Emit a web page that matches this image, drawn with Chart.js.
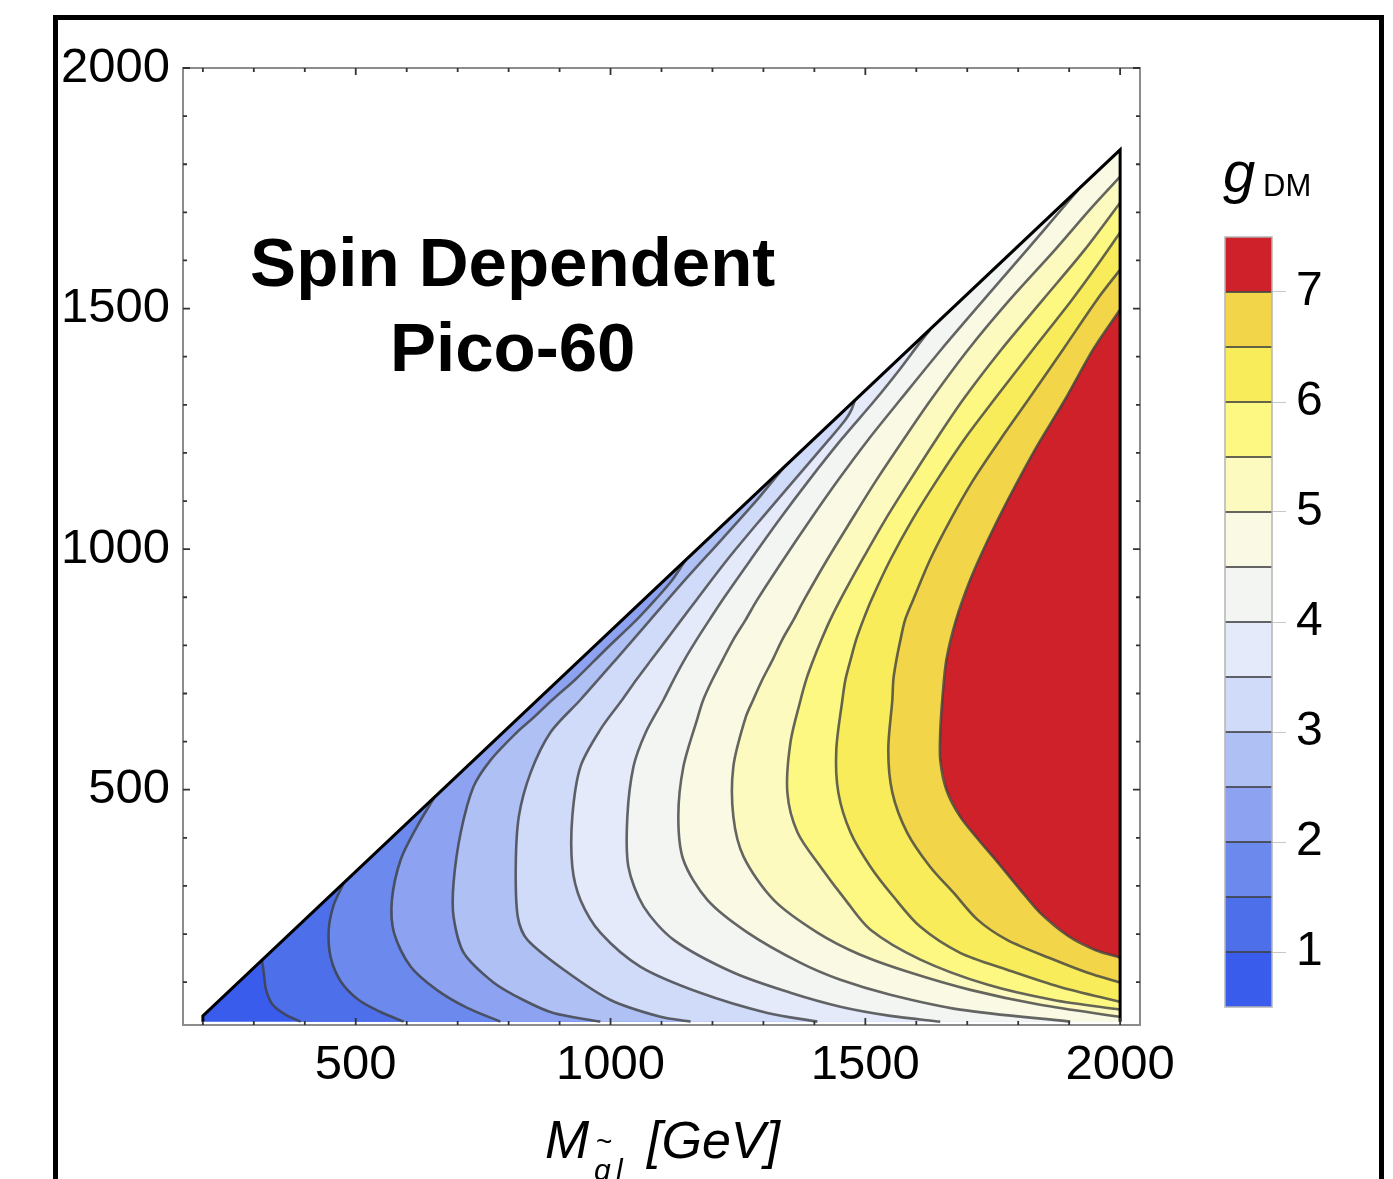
<!DOCTYPE html>
<html>
<head>
<meta charset="utf-8">
<title>g_DM contours - Spin Dependent Pico-60</title>
<script src="https://cdn.jsdelivr.net/npm/chart.js@4.4.1/dist/chart.umd.min.js"></script>
<style>
  html, body { margin: 0; padding: 0; background: #fff; overflow: hidden; }
  #page { position: relative; width: 1393px; height: 1179px; overflow: hidden; }
  #box { position: absolute; left: 53px; top: 15px; width: 1321px; height: 1250px; border: 5px solid #000; }
  #plot { position: absolute; left: 0; top: 0; }
  #scale { position: absolute; left: 1180px; top: 150px; }
</style>
</head>
<body>
<div id="page">
  <div id="box"></div>
  <canvas id="plot" width="1393" height="1179"></canvas>
  <canvas id="scale" width="213" height="880"></canvas>
</div>
<script>
// Contour map of g_DM over (M_squark, M_DM), Pico-60 spin dependent bound

const FONT = "'Liberation Sans', Arial, Helvetica, sans-serif";

// contour levels and the colour of each band (lowest band first)
const levels = [1, 1.5, 2, 2.5, 3, 3.5, 4, 4.5, 5, 5.5, 6, 6.5, 7];
const bandColors = ['#3a5ced', '#4e6fea', '#6c8aee', '#8da3f2', '#afc0f5', '#d0daf9', '#e5eafb',
                    '#f3f5f2', '#fafae4', '#fdfac0', '#fdf882', '#f9ec5a', '#f2d548', '#cf212a'];

const xTickLabels = [500, 1000, 1500, 2000];
const yTickLabels = [500, 1000, 1500, 2000];
const barTicks = [1, 2, 3, 4, 5, 6, 7];

// allowed region (triangle below the diagonal)
const triX = [200, 200, 2000, 2000];
const triY = [18, 30, 1830, 18];

// contour lines, from the lower end to the upper end
const lvl1X = [392, 363, 337, 324, 320, 316];
const lvl1Y = [18, 32, 53, 84, 115, 146];

const lvl15X = [594, 549, 506, 471, 451, 447, 457, 477];
const lvl15Y = [18, 38, 63, 101, 151, 209, 261, 307];

const lvl2X = [784, 718, 659, 608, 575, 571, 588, 620, 655];
const lvl2Y = [18, 47, 84, 132, 203, 271, 354, 423, 485];

const lvl25X = [980, 888, 829, 771, 712, 692, 692, 706, 731, 765, 816, 849, 886, 931, 990, 1051, 1088, 1122, 1147];
const lvl25Y = [18, 36, 63, 99, 161, 236, 307, 411, 506, 562, 619, 650, 687, 729, 791, 853, 895, 937, 977];

const lvl3X = [1157, 1098, 1000, 916, 837, 818, 814, 820, 843, 882, 941, 1010, 1078, 1147, 1218, 1288, 1320, 1345];
const lvl3Y = [18, 28, 63, 120, 188, 236, 340, 444, 535, 619, 687, 770, 853, 937, 1020, 1103, 1144, 1176];

const lvl35X = [1406, 1308, 1176, 1059, 980, 941, 925, 925, 941, 980, 1023, 1051, 1080, 1110, 1139, 1169, 1229, 1294, 1361, 1429, 1461, 1473, 1480];
const lvl35Y = [18, 36, 78, 132, 203, 271, 340, 444, 548, 625, 687, 729, 770, 812, 853, 895, 978, 1061, 1144, 1228, 1269, 1290, 1311];

const lvl4X = [1647, 1549, 1451, 1353, 1241, 1124, 1065, 1035, 1033, 1045, 1069, 1104, 1124, 1145, 1169, 1194, 1220, 1275, 1331, 1390, 1453, 1520, 1567, 1604, 1627];
const lvl4Y = [18, 30, 49, 78, 120, 188, 257, 340, 444, 548, 619, 687, 729, 770, 812, 853, 895, 978, 1061, 1144, 1228, 1311, 1373, 1425, 1456];

const lvl45X = [1902, 1686, 1549, 1451, 1373, 1269, 1190, 1143, 1133, 1143, 1171, 1182, 1200, 1220, 1241, 1265, 1288, 1339, 1392, 1447, 1506, 1569, 1649, 1733, 1818, 1876, 1918];
const lvl45Y = [18, 43, 74, 105, 140, 203, 271, 354, 444, 548, 650, 687, 729, 770, 812, 853, 895, 978, 1061, 1144, 1228, 1311, 1415, 1519, 1623, 1695, 1747];

const lvl5X = [2000, 1843, 1706, 1588, 1490, 1406, 1320, 1261, 1241, 1241, 1265, 1280, 1298, 1318, 1337, 1359, 1380, 1425, 1473, 1522, 1575, 1629, 1702, 1784, 1873, 1941, 2000];
const lvl5Y = [28, 53, 84, 120, 157, 203, 271, 361, 444, 548, 650, 687, 729, 770, 812, 853, 895, 978, 1061, 1144, 1228, 1311, 1415, 1519, 1623, 1706, 1774];

const lvl55X = [2000, 1869, 1739, 1608, 1510, 1461, 1412, 1367, 1347, 1353, 1373, 1384, 1398, 1414, 1431, 1451, 1494, 1539, 1588, 1639, 1692, 1767, 1849, 1931, 2000];
const lvl55Y = [43, 63, 95, 147, 209, 271, 340, 411, 494, 598, 687, 729, 770, 812, 853, 895, 978, 1061, 1144, 1228, 1311, 1415, 1519, 1623, 1720];

const lvl6X = [2000, 1882, 1778, 1686, 1608, 1555, 1510, 1471, 1447, 1443, 1455, 1461, 1471, 1482, 1496, 1512, 1549, 1592, 1641, 1694, 1753, 1829, 1906, 1949, 2000];
const lvl6Y = [59, 90, 126, 161, 215, 278, 340, 411, 494, 583, 687, 729, 770, 812, 853, 895, 978, 1061, 1144, 1228, 1311, 1415, 1519, 1581, 1658];

const lvl65X = [2000, 1935, 1869, 1778, 1720, 1673, 1627, 1582, 1553, 1545, 1553, 1555, 1561, 1569, 1578, 1594, 1627, 1667, 1712, 1765, 1820, 1888, 1955, 2000];
const lvl65Y = [99, 120, 147, 188, 230, 286, 340, 411, 494, 583, 687, 729, 770, 812, 853, 895, 978, 1061, 1144, 1228, 1311, 1415, 1519, 1581];

const lvl7X = [2000, 1951, 1898, 1843, 1804, 1759, 1722, 1686, 1659, 1647, 1647, 1651, 1659, 1678, 1706, 1741, 1780, 1833, 1892, 1947, 2000];
const lvl7Y = [151, 167, 196, 244, 292, 350, 396, 444, 500, 562, 619, 687, 770, 853, 937, 1020, 1103, 1207, 1311, 1415, 1498];

const contours = [
  [lvl1X, lvl1Y], [lvl15X, lvl15Y], [lvl2X, lvl2Y], [lvl25X, lvl25Y], [lvl3X, lvl3Y],
  [lvl35X, lvl35Y], [lvl4X, lvl4Y], [lvl45X, lvl45Y], [lvl5X, lvl5Y], [lvl55X, lvl55Y],
  [lvl6X, lvl6Y], [lvl65X, lvl65Y], [lvl7X, lvl7Y]
];

// where the in-plot title sits (data units)
const titleX = 808, titleY1 = 1546, titleY2 = 1371;

function pts(xs, ys) {
  return xs.map((x, i) => ({ x: x, y: ys[i] }));
}

// Build datasets: base triangle, one filled region per level (painted in order), contour lines, outline
function buildDatasets() {
  const apex = { x: triX[2], y: triY[2] };
  const corner = { x: triX[3], y: triY[3] };
  const sets = [];

  sets.push({
    data: pts(triX, triY), fill: 'shape', backgroundColor: bandColors[0],
    borderWidth: 0, pointRadius: 0, tension: 0, order: 300
  });

  contours.forEach(([xs, ys], i) => {
    const line = pts(xs, ys);
    // a contour that ends on the diagonal is closed via the apex and the bottom-right corner
    const shape = xs[xs.length - 1] < triX[2] ? line.concat([apex, corner]) : line;
    sets.push({
      data: shape, fill: 'shape', backgroundColor: bandColors[i + 1],
      borderWidth: 0, pointRadius: 0, tension: 0, order: 200 - i
    });
    sets.push({
      data: line, fill: false, borderColor: 'rgba(62,64,64,0.8)',
      borderWidth: 2.6, pointRadius: 0, tension: 0.3, order: 10
    });
  });

  sets.push({
    data: pts(triX, triY), fill: false, borderColor: '#000',
    borderWidth: 3, pointRadius: 0, tension: 0, order: 0
  });
  return sets;
}

// Gray frame with small inside ticks on all four sides, plus in-plot and axis titles
const framePlugin = {
  id: 'frame',
  afterDatasetsDraw(chart) {
    const { ctx, chartArea: a, scales: { x, y } } = chart;
    ctx.save();
    ctx.strokeStyle = '#8c8c8c';
    ctx.lineWidth = 2;
    ctx.strokeRect(a.left, a.top, a.right - a.left, a.bottom - a.top);

    ctx.strokeStyle = '#333';
    ctx.lineWidth = 1.8;
    ctx.beginPath();
    x.ticks.forEach(t => {
      const px = x.getPixelForValue(t.value);
      const len = t.value % 500 === 0 ? 7 : 4;
      ctx.moveTo(px, a.bottom); ctx.lineTo(px, a.bottom - len);
      ctx.moveTo(px, a.top); ctx.lineTo(px, a.top + len);
    });
    y.ticks.forEach(t => {
      const py = y.getPixelForValue(t.value);
      const len = t.value % 500 === 0 ? 7 : 4;
      ctx.moveTo(a.left, py); ctx.lineTo(a.left + len, py);
      ctx.moveTo(a.right, py); ctx.lineTo(a.right - len, py);
    });
    ctx.stroke();

    // in-plot title
    ctx.fillStyle = '#000';
    ctx.textAlign = 'center';
    ctx.textBaseline = 'alphabetic';
    ctx.font = 'bold 69px ' + FONT;
    ctx.fillText('Spin Dependent', x.getPixelForValue(titleX), y.getPixelForValue(titleY1));
    ctx.fillText('Pico-60', x.getPixelForValue(titleX), y.getPixelForValue(titleY2));

    // x axis title: M with subscript q-tilde l, then [GeV]
    ctx.textAlign = 'left';
    ctx.font = 'italic 53px ' + FONT;
    ctx.fillText('M', 545, 1158);
    ctx.font = 'italic 30px ' + FONT;
    ctx.fillText('q', 594, 1180);
    ctx.fillText('l', 616, 1180);
    ctx.font = '28px ' + FONT;
    ctx.fillText('~', 596, 1151);
    ctx.font = 'italic 52px ' + FONT;
    ctx.fillText('[GeV]', 647, 1158);
    ctx.restore();
  }
};

function tickFont() {
  return { family: FONT, size: 49 };
}

new Chart(document.getElementById('plot'), {
  type: 'line',
  data: { datasets: buildDatasets() },
  options: {
    responsive: false,
    animation: false,
    events: [],
    layout: { padding: { left: 0, top: 68, right: 253, bottom: 0 } },
    plugins: { legend: { display: false }, tooltip: { enabled: false } },
    scales: {
      x: {
        type: 'linear', min: 161, max: 2039,
        afterFit: s => { s.height = 154; },
        grid: { display: false, drawTicks: false },
        border: { display: false },
        ticks: {
          stepSize: 100, autoSkip: false, includeBounds: false, maxRotation: 0,
          padding: 11, color: '#000', font: tickFont(),
          callback: v => xTickLabels.includes(v) ? String(v) : ''
        }
      },
      y: {
        type: 'linear', min: 11, max: 2000,
        afterFit: s => { s.width = 183; },
        grid: { display: false, drawTicks: false },
        border: { display: false },
        ticks: {
          stepSize: 100, autoSkip: false, includeBounds: false,
          padding: 13, color: '#000', font: tickFont(),
          callback: v => yTickLabels.includes(v) ? String(v) : ''
        }
      }
    }
  },
  plugins: [framePlugin]
});

// Colour bar: one floating bar per band
const edges = [0.5].concat(levels, [7.5]);

const barDecor = {
  id: 'barDecor',
  afterDatasetsDraw(chart) {
    const { ctx, chartArea: a, scales: { y } } = chart;
    ctx.save();
    ctx.strokeStyle = 'rgba(62,64,64,0.8)';
    ctx.lineWidth = 2;
    ctx.beginPath();
    levels.forEach(v => {
      const py = y.getPixelForValue(v);
      ctx.moveTo(a.left, py); ctx.lineTo(a.right, py);
    });
    ctx.stroke();
    ctx.strokeStyle = '#b4b4b4';
    ctx.lineWidth = 1.5;
    ctx.strokeRect(a.left, a.top, a.right - a.left, a.bottom - a.top);

    ctx.fillStyle = '#000';
    ctx.textAlign = 'left';
    ctx.textBaseline = 'alphabetic';
    ctx.font = 'italic 58px ' + FONT;
    ctx.fillText('g', 43, 42);
    ctx.font = '31px ' + FONT;
    ctx.fillText('DM', 83, 46);
    ctx.restore();
  }
};

new Chart(document.getElementById('scale'), {
  type: 'bar',
  data: {
    labels: [''],
    datasets: bandColors.map((c, i) => ({
      data: [[edges[i], edges[i + 1]]],
      backgroundColor: c, borderWidth: 0,
      barPercentage: 1, categoryPercentage: 1, grouped: false
    }))
  },
  options: {
    responsive: false,
    animation: false,
    events: [],
    layout: { padding: { left: 45, top: 87, bottom: 23, right: 0 } },
    plugins: { legend: { display: false }, tooltip: { enabled: false } },
    scales: {
      x: { display: false },
      y: {
        position: 'right', min: 0.5, max: 7.5,
        // fixed width, and no extra room reserved for the end labels
        afterFit: s => { s.width = 121; s.paddingTop = 0; s.paddingBottom = 0; },
        afterBuildTicks: s => { s.ticks = barTicks.map(v => ({ value: v })); },
        border: { display: false },
        grid: { drawOnChartArea: false, drawTicks: true, tickLength: 14, color: '#c8c8c8', lineWidth: 1 },
        ticks: {
          padding: 10, color: '#000',
          font: { family: FONT, size: 48 },
          callback: v => String(v)
        }
      }
    }
  },
  plugins: [barDecor]
});
</script>
</body>
</html>
